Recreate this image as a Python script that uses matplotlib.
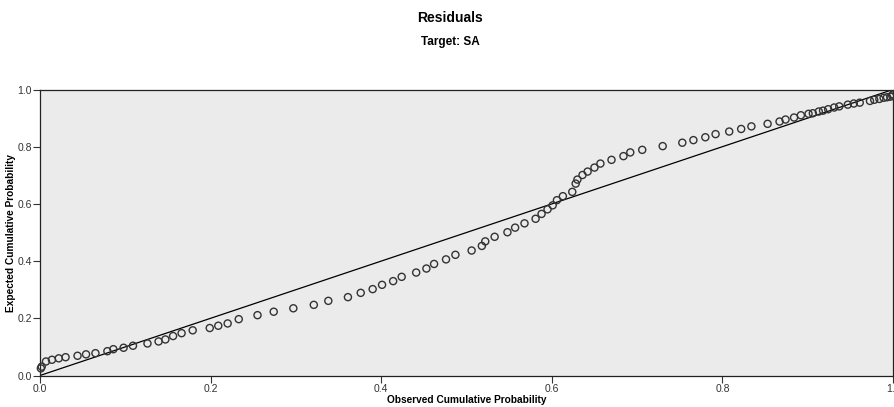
import matplotlib
matplotlib.use("Agg")
import matplotlib.pyplot as plt
from matplotlib import font_manager

# observed / expected cumulative probabilities
observed = [0.001, 0.002, 0.007, 0.014, 0.022, 0.030, 0.044, 0.054, 0.065, 0.079,
            0.086, 0.098, 0.109, 0.126, 0.139, 0.147, 0.156, 0.166, 0.179, 0.199,
            0.209, 0.220, 0.233, 0.255, 0.274, 0.297, 0.321, 0.338, 0.361, 0.376,
            0.390, 0.401, 0.414, 0.424, 0.441, 0.453, 0.462, 0.476, 0.487, 0.506,
            0.518, 0.522, 0.533, 0.548, 0.557, 0.568, 0.581, 0.588, 0.595, 0.601,
            0.606, 0.613, 0.624, 0.628, 0.630, 0.636, 0.642, 0.650, 0.657, 0.670,
            0.684, 0.692, 0.706, 0.730, 0.753, 0.766, 0.780, 0.792, 0.808, 0.822,
            0.834, 0.853, 0.867, 0.874, 0.884, 0.892, 0.901, 0.906, 0.913, 0.918,
            0.924, 0.931, 0.937, 0.947, 0.954, 0.961, 0.973, 0.978, 0.984, 0.989,
            0.993, 0.997, 0.999, 1.000]
expected = [0.025, 0.031, 0.049, 0.055, 0.060, 0.064, 0.069, 0.074, 0.078, 0.085,
            0.092, 0.097, 0.104, 0.112, 0.119, 0.126, 0.138, 0.148, 0.158, 0.166,
            0.174, 0.182, 0.197, 0.211, 0.223, 0.235, 0.247, 0.261, 0.274, 0.289,
            0.302, 0.317, 0.330, 0.345, 0.360, 0.374, 0.390, 0.406, 0.422, 0.437,
            0.453, 0.469, 0.485, 0.501, 0.517, 0.532, 0.548, 0.565, 0.581, 0.595,
            0.613, 0.627, 0.642, 0.671, 0.685, 0.701, 0.713, 0.727, 0.741, 0.754,
            0.767, 0.780, 0.789, 0.802, 0.814, 0.823, 0.833, 0.844, 0.853, 0.862,
            0.871, 0.880, 0.888, 0.895, 0.902, 0.910, 0.915, 0.917, 0.923, 0.926,
            0.931, 0.937, 0.941, 0.947, 0.951, 0.954, 0.960, 0.964, 0.967, 0.971,
            0.973, 0.975, 0.979, 0.983]
ticks = [0.0, 0.2, 0.4, 0.6, 0.8, 1.0]
tick_labels = ["0.0", "0.2", "0.4", "0.6", "0.8", "1.0"]

names = {f.name for f in font_manager.fontManager.ttflist}
font = "Liberation Sans Narrow" if "Liberation Sans Narrow" in names else "Liberation Sans"
plt.rcParams['font.family'] = [font, 'DejaVu Sans']

fig = plt.figure(figsize=(8.94, 4.07), dpi=100)
ax = fig.add_axes([40 / 894, 1 - 375.5 / 407, 853 / 894, 286 / 407])
ax.set_facecolor("#ebebeb")

ax.plot([0, 1], [0, 1], color="black", lw=0.9, zorder=2)
ax.scatter(observed, expected, s=26, facecolors="none", edgecolors="#333333",
           linewidths=1.0, zorder=3, clip_on=False)

ax.set_xlim(0, 1)
ax.set_ylim(0, 1)
ax.set_xticks(ticks)
ax.set_xticklabels(tick_labels)
ax.set_yticks(ticks)
ax.set_yticklabels(tick_labels)
ax.tick_params(direction="out", length=5, width=0.8, labelsize=7.5, colors="#333333", pad=1)
for sp in ax.spines.values():
    sp.set_color("#222222")
    sp.set_linewidth(0.9)

ax.set_xlabel("Observed Cumulative Probability", fontsize=7.3, fontweight="bold", labelpad=1)
ax.set_ylabel("Expected Cumulative Probability", fontsize=7.3, fontweight="bold", labelpad=1)

fig.text(0.5035, 1 - 17.5 / 407, "Residuals", ha="center", va="center", fontsize=10, fontweight="bold")
fig.text(0.5035, 1 - 42 / 407, "Target: SA", ha="center", va="center", fontsize=8.5, fontweight="bold")

fig.savefig("out.png", dpi=100)
